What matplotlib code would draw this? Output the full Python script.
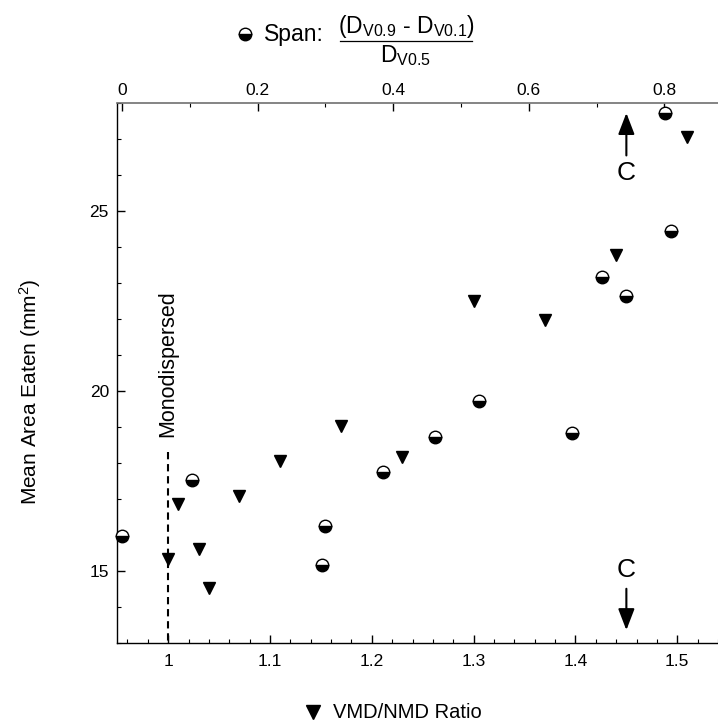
import matplotlib
matplotlib.use('Agg')
import matplotlib.pyplot as plt
from matplotlib.lines import Line2D
from matplotlib.ticker import FixedLocator, FixedFormatter, MultipleLocator

plt.rcParams['font.family'] = ['Liberation Sans', 'DejaVu Sans']
plt.rcParams['mathtext.fontset'] = 'custom'
plt.rcParams['mathtext.rm'] = 'Liberation Sans'
plt.rcParams['mathtext.it'] = 'Liberation Sans'

# VMD/NMD ratio series (bottom axis, triangles)
vmd_ratio = [1.00, 1.01, 1.03, 1.04, 1.07, 1.11, 1.17, 1.23, 1.30, 1.37, 1.44, 1.51]
vmd_area = [15.32, 16.86, 15.60, 14.51, 17.09, 18.05, 19.03, 18.17, 22.50, 21.97, 23.78, 27.07]

# Span series (top axis, half-filled circles)
span = [0.0, 0.103, 0.295, 0.299, 0.385, 0.461, 0.527, 0.664, 0.708, 0.744, 0.801, 0.810]
span_area = [15.97, 17.52, 15.16, 16.25, 17.76, 18.73, 19.72, 18.83, 23.16, 22.65, 27.74, 24.46]

bottom_ticks = [1.0, 1.1, 1.2, 1.3, 1.4, 1.5]
bottom_labels = ['1', '1.1', '1.2', '1.3', '1.4', '1.5']
top_ticks = [0.0, 0.2, 0.4, 0.6, 0.8]
top_labels = ['0', '0.2', '0.4', '0.6', '0.8']
y_ticks = [15, 20, 25]
y_labels = ['15', '20', '25']

W, H = 718, 723
fig = plt.figure(figsize=(W / 100, H / 100), dpi=100)
ax = fig.add_axes([117.3 / W, 1 - 642.7 / H, 1 - 117.3 / W, (642.7 - 103.3) / H])
ax.set_xlim(0.95, 1.54)
ax.set_ylim(13, 28)

ax.spines['right'].set_visible(False)
ax.spines['top'].set_visible(False)
for s in ['left', 'bottom']:
    ax.spines[s].set_linewidth(1.0)

ax.xaxis.set_major_locator(FixedLocator(bottom_ticks))
ax.xaxis.set_major_formatter(FixedFormatter(bottom_labels))
ax.xaxis.set_minor_locator(MultipleLocator(0.02))
ax.yaxis.set_major_locator(FixedLocator(y_ticks))
ax.yaxis.set_major_formatter(FixedFormatter(y_labels))
ax.yaxis.set_minor_locator(MultipleLocator(1))
ax.tick_params(axis='both', which='major', direction='in', length=5.5, width=1, labelsize=12.5)
ax.tick_params(axis='both', which='minor', direction='in', length=3, width=0.8)
ax.tick_params(axis='x', which='major', pad=8)
ax.tick_params(axis='y', which='major', pad=6)

ax2 = ax.twiny()
ax2.set_xlim(-0.0071, 0.879)
for s in ['right', 'left', 'bottom']:
    ax2.spines[s].set_visible(False)
ax2.spines['top'].set_color('#707070')
ax2.spines['top'].set_linewidth(1.2)
ax2.xaxis.set_major_locator(FixedLocator(top_ticks))
ax2.xaxis.set_major_formatter(FixedFormatter(top_labels))
ax2.xaxis.set_minor_locator(MultipleLocator(0.1))
ax2.tick_params(axis='x', which='major', direction='in', length=5.5, width=1, labelsize=12.5, pad=4)
ax2.tick_params(axis='x', which='minor', direction='in', length=3, width=0.8)

# data
ax.plot(vmd_ratio, vmd_area, linestyle='none', marker='v', markersize=9,
        color='black', clip_on=False, zorder=5)
ax2.plot(span, span_area, linestyle='none', marker='o', markersize=9, fillstyle='bottom',
         markerfacecolor='black', markerfacecoloralt='white', markeredgecolor='black',
         markeredgewidth=1.0, clip_on=False, zorder=5)

# monodispersed dashed line
ax.plot([1.0, 1.0], [18.3, 13], linestyle=(0, (3.5, 2.3)), color='black', lw=1.5, zorder=3)
ax.text(1.0, 18.72, 'Monodispersed', rotation=90, ha='center', va='bottom', fontsize=15.5)

# C arrows
arrow_style = dict(arrowstyle='-|>,head_length=0.65,head_width=0.25', color='black',
                   lw=1.5, mutation_scale=20, shrinkA=0, shrinkB=0)
ax.annotate('', xy=(1.45, 27.73), xytext=(1.45, 26.55), arrowprops=arrow_style)
ax.text(1.45, 26.06, 'C', ha='center', va='center', fontsize=19)
ax.annotate('', xy=(1.45, 13.35), xytext=(1.45, 14.5), arrowprops=arrow_style)
ax.text(1.45, 15.02, 'C', ha='center', va='center', fontsize=19)

# axis labels
fig.text(30 / W, 1 - 392 / H, 'Mean Area Eaten (mm$^2$)', rotation=90, ha='center', va='center',
         fontsize=15)
fig.add_artist(Line2D([313 / W], [1 - 712 / H], marker='v', markersize=10, color='black',
                      linestyle='none', transform=fig.transFigure))
fig.text(333 / W, 1 - 712 / H, 'VMD/NMD Ratio', ha='left', va='center', fontsize=14.5)

# top legend-like title
fig.add_artist(Line2D([245 / W], [1 - 34 / H], marker='o', markersize=9, fillstyle='bottom',
                      markerfacecolor='black', markerfacecoloralt='white',
                      markeredgecolor='black', linestyle='none', transform=fig.transFigure))
fig.text(264 / W, 1 - 34 / H, 'Span:', ha='left', va='center', fontsize=16.5)
fig.text(406 / W, 1 - 27 / H, r'(D$_{\mathrm{V0.9}}$ - D$_{\mathrm{V0.1}}$)',
         ha='center', va='center', fontsize=16.5)
fig.add_artist(Line2D([340 / W, 472 / W], [1 - 41 / H, 1 - 41 / H], color='black', lw=0.9,
                      transform=fig.transFigure))
fig.text(406 / W, 1 - 56 / H, r'D$_{\mathrm{V0.5}}$', ha='center', va='center', fontsize=16.5)

fig.savefig('out.png', dpi=100)
